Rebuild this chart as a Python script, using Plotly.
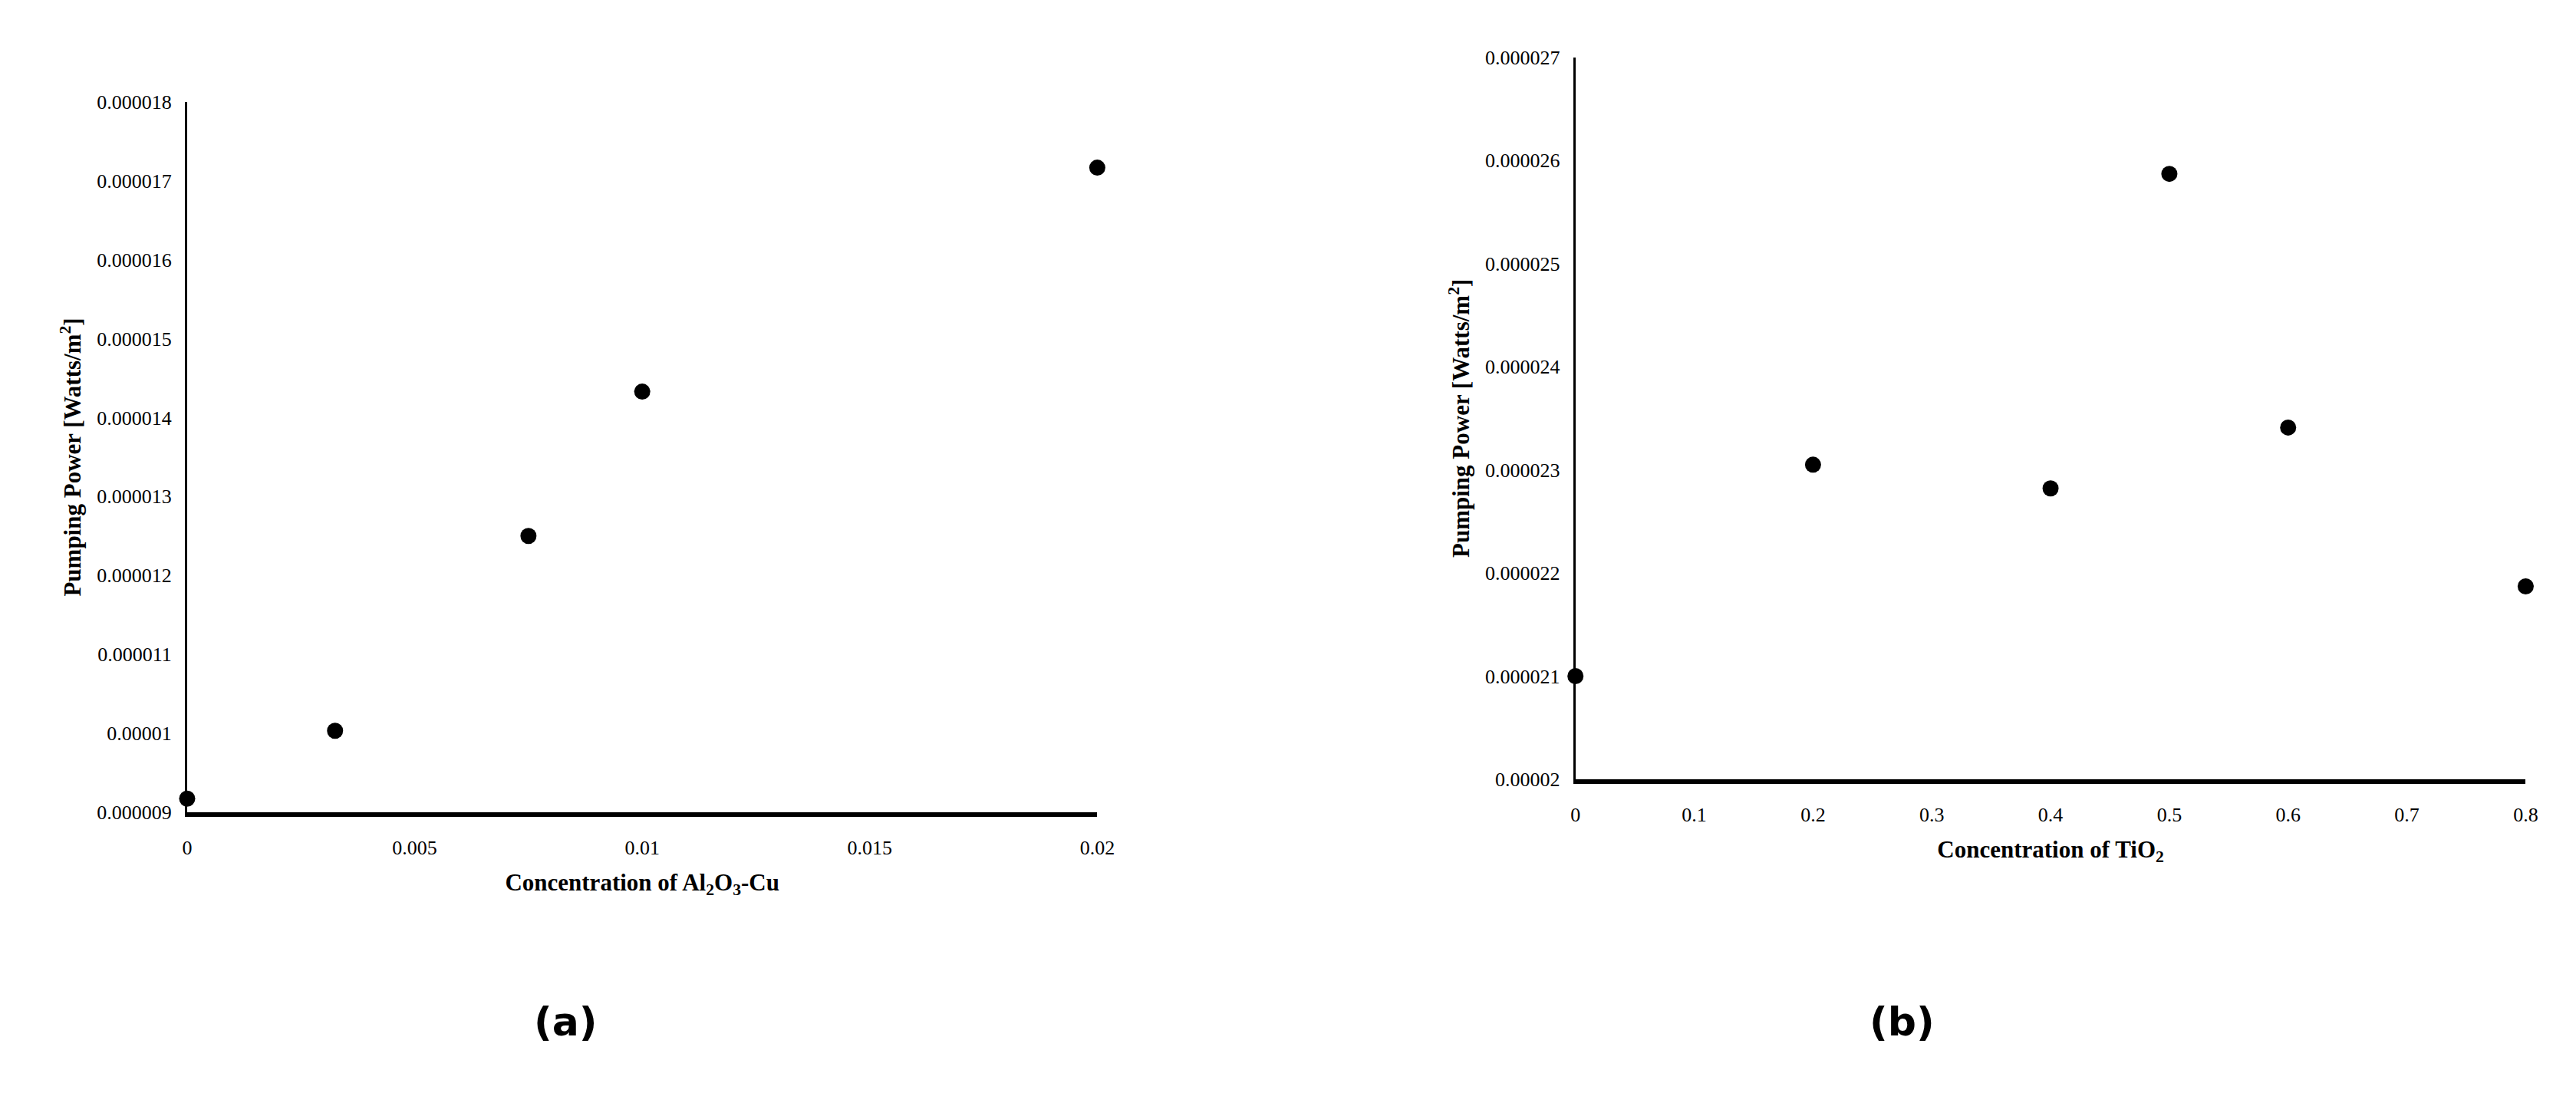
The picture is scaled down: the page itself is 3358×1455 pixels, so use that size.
import plotly.graph_objects as go

# Panel (a)
conc_a = [0, 0.00325, 0.0075, 0.01, 0.02]
power_a = [9.17e-6, 1.003e-5, 1.25e-5, 1.433e-5, 1.717e-5]
xt_a = [0, 0.005, 0.01, 0.015, 0.02]
xt_a_txt = ["0", "0.005", "0.01", "0.015", "0.02"]
yt_a = [9e-6, 10e-6, 11e-6, 12e-6, 13e-6, 14e-6, 15e-6, 16e-6, 17e-6, 18e-6]
yt_a_txt = ["0.000009", "0.00001", "0.000011", "0.000012", "0.000013",
            "0.000014", "0.000015", "0.000016", "0.000017", "0.000018"]

# Panel (b)
conc_b = [0, 0.2, 0.4, 0.5, 0.6, 0.8]
power_b = [2.1e-5, 2.305e-5, 2.282e-5, 2.587e-5, 2.341e-5, 2.187e-5]
xt_b = [0, 0.1, 0.2, 0.3, 0.4, 0.5, 0.6, 0.7, 0.8]
xt_b_txt = ["0", "0.1", "0.2", "0.3", "0.4", "0.5", "0.6", "0.7", "0.8"]
yt_b = [20e-6, 21e-6, 22e-6, 23e-6, 24e-6, 25e-6, 26e-6, 27e-6]
yt_b_txt = ["0.00002", "0.000021", "0.000022", "0.000023", "0.000024",
            "0.000025", "0.000026", "0.000027"]

fig = go.Figure()
mk = dict(color="black", size=21)
fig.add_trace(go.Scatter(x=conc_a, y=power_a, mode="markers", marker=mk,
                         xaxis="x", yaxis="y", cliponaxis=False, showlegend=False))
fig.add_trace(go.Scatter(x=conc_b, y=power_b, mode="markers", marker=mk,
                         xaxis="x2", yaxis="y2", cliponaxis=False, showlegend=False))

tf = dict(family="Liberation Serif", size=26, color="black")
titf = dict(family="Liberation Serif", size=31, color="black")

fig.update_layout(
    width=3358, height=1455, margin=dict(l=0, r=0, t=0, b=0),
    paper_bgcolor="white", plot_bgcolor="white",
    xaxis=dict(domain=[0.0688, 0.4253], range=[0, 0.02], tickvals=xt_a, ticktext=xt_a_txt,
               showline=True, linecolor="black", linewidth=6, showgrid=False, zeroline=False,
               ticks="", tickfont=tf, ticklabelstandoff=18,
               title=dict(text="<b>Concentration of Al<sub>2</sub>O<sub>3</sub>-Cu</b>", font=titf, standoff=22),
               anchor="y"),
    yaxis=dict(domain=[0.273, 0.922], range=[9e-6, 18e-6], tickvals=yt_a, ticktext=yt_a_txt,
               showline=True, linecolor="black", linewidth=3, showgrid=False, zeroline=False,
               ticks="", tickfont=tf, ticklabelstandoff=12,
               title=dict(text="<b>Pumping Power [Watts/m<sup>2</sup>]</b>", font=titf, standoff=12),
               anchor="x"),
    xaxis2=dict(domain=[0.6126, 0.9848], range=[0, 0.8], tickvals=xt_b, ticktext=xt_b_txt,
                showline=True, linecolor="black", linewidth=6, showgrid=False, zeroline=False,
                ticks="", tickfont=tf, ticklabelstandoff=18,
                title=dict(text="<b>Concentration of TiO<sub>2</sub></b>", font=titf, standoff=22),
                anchor="y2"),
    yaxis2=dict(domain=[0.303, 0.963], range=[20e-6, 27e-6], tickvals=yt_b, ticktext=yt_b_txt,
                showline=True, linecolor="black", linewidth=3, showgrid=False, zeroline=False,
                ticks="", tickfont=tf, ticklabelstandoff=12,
                title=dict(text="<b>Pumping Power [Watts/m<sup>2</sup>]</b>", font=titf, standoff=12),
                anchor="x2"),
    annotations=[
        dict(text="<b>(a)</b>", x=0.204, y=1 - 1369 / 1455, xref="paper", yref="paper",
             showarrow=False, font=dict(family="DejaVu Sans", size=52, color="black")),
        dict(text="<b>(b)</b>", x=0.754, y=1 - 1369 / 1455, xref="paper", yref="paper",
             showarrow=False, font=dict(family="DejaVu Sans", size=52, color="black")),
    ],
)
fig.write_html("out.html")
